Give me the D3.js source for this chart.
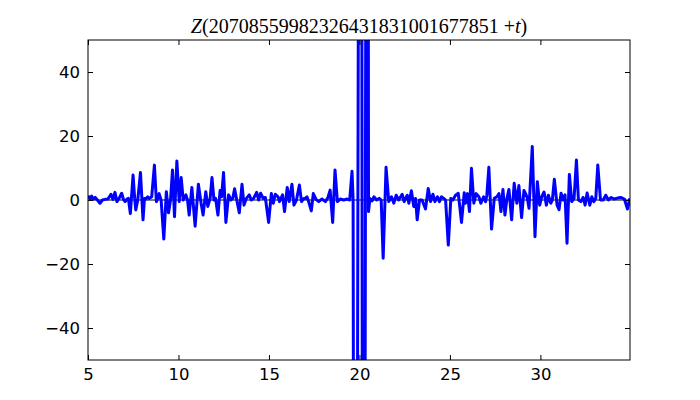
<!DOCTYPE html>
<html>
<head>
<meta charset="utf-8">
<title>Z(t) plot</title>
<script src="https://cdn.jsdelivr.net/npm/d3@7"></script>
<style>
  body { margin: 0; background: #fff; }
  .tick text { font-family: "DejaVu Sans", sans-serif; font-size: 16.5px; fill: #000; }
  .tick line { stroke: #000; }
  #title { font-family: "Liberation Serif", serif; font-size: 20px; }
</style>
</head>
<body>
<div id="chart"></div>
<script>
// t offsets and Z values (values beyond +-50 run off the plot)
var tVals = [5.00, 5.06, 5.13, 5.20, 5.30, 5.40, 5.52, 5.66, 5.80, 5.94, 6.10, 6.27, 6.38, 6.49, 6.60, 6.72, 6.86, 6.96, 7.05, 7.15,
  7.23, 7.34, 7.49, 7.58, 7.64, 7.75, 7.90, 8.04, 8.12, 8.19, 8.30, 8.38, 8.52, 8.67, 8.78, 8.86, 8.93, 9.04, 9.19, 9.33,
  9.45, 9.56, 9.67, 9.78, 9.91, 10.04, 10.15, 10.26, 10.41, 10.50, 10.59, 10.74, 10.92, 11.10, 11.25, 11.36, 11.51, 11.62, 11.75, 11.85,
  11.96, 12.05, 12.18, 12.30, 12.38, 12.49, 12.62, 12.77, 12.90, 13.00, 13.10, 13.22, 13.36, 13.51, 13.62, 13.75, 13.91, 14.02, 14.15, 14.32,
  14.43, 14.54, 14.68, 14.80, 14.98, 15.13, 15.24, 15.35, 15.50, 15.58, 15.75, 15.86, 16.01, 16.12, 16.27, 16.38, 16.52, 16.68, 16.80, 16.93,
  17.01, 17.10, 17.19, 17.34, 17.45, 17.60, 17.75, 17.93, 18.12, 18.26, 18.38, 18.52, 18.65, 18.78, 18.94, 19.13, 19.32, 19.46, 19.59, 19.65,
  19.76, 20.07, 20.22, 20.44, 20.50, 20.58, 20.70, 20.80, 20.95, 21.10, 21.20, 21.31, 21.47, 21.62, 21.77, 21.90, 22.03, 22.17, 22.36, 22.47,
  22.64, 22.73, 22.87, 23.00, 23.10, 23.19, 23.32, 23.46, 23.65, 23.80, 23.93, 24.06, 24.17, 24.31, 24.42, 24.53, 24.66, 24.76, 24.91, 25.05,
  25.16, 25.31, 25.46, 25.64, 25.79, 25.86, 25.97, 26.08, 26.19, 26.32, 26.45, 26.60, 26.71, 26.86, 26.97, 27.04, 27.15, 27.30, 27.45, 27.60,
  27.71, 27.82, 27.93, 28.04, 28.15, 28.26, 28.41, 28.55, 28.70, 28.81, 28.96, 29.09, 29.18, 29.28, 29.37, 29.55, 29.70, 29.83, 29.96, 30.07,
  30.20, 30.33, 30.44, 30.57, 30.66, 30.77, 30.92, 31.03, 31.14, 31.25, 31.36, 31.47, 31.60, 31.73, 31.86, 31.99, 32.10, 32.23, 32.36, 32.47,
  32.58, 32.73, 32.84, 32.95, 33.06, 33.17, 33.32, 33.47, 33.61, 33.76, 33.91, 34.07, 34.26, 34.44, 34.64, 34.81, 34.94]
var zVals = [0.8, 1.0, 0.2, 1.2, 0.3, 0.8, 0.0, -1.0, 0.0, 0.2, 0.3, 1.8, 0.2, 2.4, -0.5, 0.5, 2.1, 0.2, -0.5, 0.3,
  0.5, -4.2, 7.8, 0.5, -3.1, 0.0, 8.6, -6.2, 0.5, 0.3, 1.0, 0.5, 1.0, 10.9, -0.5, 0.5, 2.0, 0.0, -12.2, 2.6,
  -4.0, 0.0, 9.4, -5.2, 12.2, -0.5, 7.0, 0.0, 1.6, 0.0, -4.7, 3.9, -8.2, 4.9, -1.0, -4.7, 2.6, -2.0, 0.5, 7.0,
  0.0, 0.5, -4.7, 3.0, 1.0, 8.6, -7.0, 1.6, 0.0, 0.5, 3.5, 0.0, -4.0, 4.9, -1.6, 0.5, 1.6, 0.0, 0.5, 2.4,
  0.0, 2.1, 0.5, 0.8, -7.0, 2.0, -1.0, 1.8, 1.0, -0.5, 1.6, -3.6, 3.9, -0.5, 4.9, -1.6, 0.0, 4.7, -0.5, 0.5,
  0.5, 1.0, -0.5, -3.4, 2.0, 0.2, -0.5, 0.3, -0.5, 0.8, 3.1, -7.0, 9.4, -0.5, 0.3, 0.0, 0.3, 0.0, 9.0, 0.0,
  -400, 400, -400, 400, -3.6, 0.5, -0.3, 1.0, 0.0, 0.5, 0.0, -18.2, 10.2, -0.5, 1.0, -1.0, 1.5, 0.0, 1.8, -0.5,
  1.5, -1.0, 2.9, -2.0, 0.5, -6.2, 0.0, 0.0, -2.8, 3.6, -0.5, 1.8, -0.5, 1.0, -0.5, 1.0, 0.5, 0.0, -14.1, 0.5,
  0.0, 1.5, 2.1, -7.0, 2.3, -1.0, 2.0, -3.6, 9.9, -1.0, 2.0, 1.0, -1.0, 1.0, -0.5, 1.5, 10.2, -9.1, 0.5, 1.0,
  2.0, -3.6, 3.3, -4.7, 0.5, 3.3, -6.2, 5.2, -1.0, 4.5, -5.5, 3.0, 2.0, 0.5, -2.6, 16.7, -11.5, 5.7, -1.6, 1.0,
  2.5, -1.6, 1.5, -1.0, 0.0, 6.5, -1.6, -3.0, 2.1, 0.0, 1.6, -13.5, 8.0, -0.5, 0.5, 12.5, 0.0, -0.5, 0.8, -1.6,
  2.2, -1.6, 1.0, -0.5, 0.5, 10.9, 0.0, 0.0, 1.5, 0.0, 0.8, 0.3, 0.6, 0.8, 0.3, -2.8, 0.5]
var xTicks = [5, 10, 15, 20, 25, 30]
var yTicks = [-40, -20, 0, 20, 40]
var titleBase = "20708559982326431831001677851"

var width = 700, height = 400
var margin = {top: 40, right: 70, bottom: 40, left: 88}
var w = width - margin.left - margin.right
var h = height - margin.top - margin.bottom

var data = tVals.map(function(t, i) { return {t: t, z: zVals[i]} })

var svg = d3.select("#chart").append("svg").attr("width", width).attr("height", height)
var g = svg.append("g").attr("transform", "translate(" + margin.left + "," + margin.top + ")")

var x = d3.scaleLinear().domain([5, 34.95]).range([0, w])
var y = d3.scaleLinear().domain([-50, 50]).range([h, 0])

g.append("clipPath").attr("id", "clip")
  .append("rect").attr("width", w).attr("height", h)

var plot = g.append("g").attr("clip-path", "url(#clip)")

// thin zero line under the curve
plot.append("line")
  .attr("x1", 0).attr("x2", w)
  .attr("y1", y(0)).attr("y2", y(0))
  .attr("stroke", "#000").attr("stroke-width", 1)

var line = d3.line()
  .x(function(d) { return x(d.t) })
  .y(function(d) { return y(d.z) })

plot.append("path")
  .datum(data)
  .attr("d", line)
  .attr("fill", "none")
  .attr("stroke", "#0000ff")
  .attr("stroke-width", 3)
  .attr("stroke-linejoin", "round")

// axes, ticks pointing inward on all four sides
g.append("g").attr("transform", "translate(0," + h + ")")
  .call(d3.axisBottom(x).tickValues(xTicks).tickSize(-5).tickPadding(8).tickFormat(d3.format("d")))
g.append("g")
  .call(d3.axisTop(x).tickValues(xTicks).tickSize(-5).tickFormat(""))
g.append("g")
  .call(d3.axisLeft(y).tickValues(yTicks).tickSize(-5).tickPadding(8).tickFormat(function(d) { return d < 0 ? "\u2212" + Math.abs(d) : d }))
g.append("g").attr("transform", "translate(" + w + ",0)")
  .call(d3.axisRight(y).tickValues(yTicks).tickSize(-5).tickFormat(""))

g.selectAll(".domain").remove()

g.append("rect")
  .attr("width", w).attr("height", h)
  .attr("fill", "none").attr("stroke", "#000").attr("stroke-width", 1)

var title = svg.append("text").attr("id", "title")
  .attr("x", margin.left + w / 2).attr("y", 33)
  .attr("text-anchor", "middle")
title.append("tspan").attr("font-style", "italic").text("Z")
title.append("tspan").text("(" + titleBase)
title.append("tspan").text(" +")
title.append("tspan").attr("font-style", "italic").text("t")
title.append("tspan").text(")")
</script>
</body>
</html>
